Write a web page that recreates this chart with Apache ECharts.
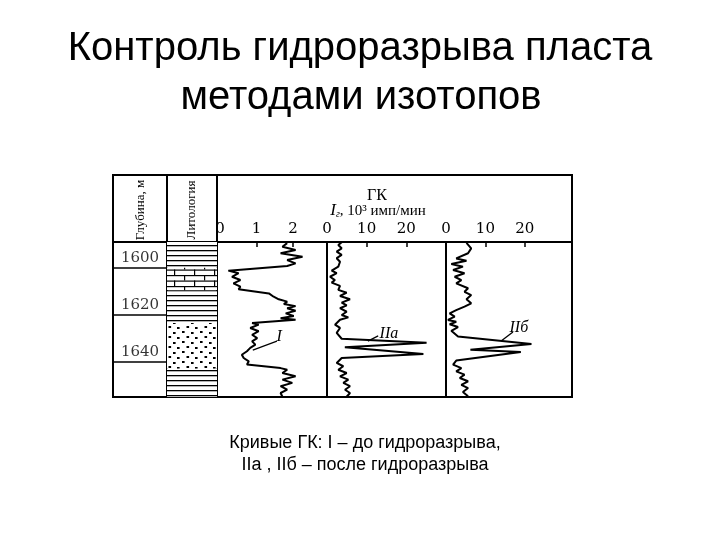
<!DOCTYPE html>
<html>
<head>
<meta charset="utf-8">
<style>
html, body { margin: 0; padding: 0; background: #fff; }
#chart-panel { width: 720px; height: 540px; }
</style>
<script src="https://cdn.jsdelivr.net/npm/echarts@6/dist/echarts.min.js"></script>
</head>
<body>
<div id="chart-panel"></div>
<script type="text/javascript">
// depth column
var depthLabels = [1600, 1620, 1640];
var depthRowLines = [1604, 1624, 1644];

// lithology column
var lithoTop = [1593, 1604, 1613.5, 1627.5, 1647];
var lithoBottom = [1604, 1613.5, 1627.5, 1647, 1659];
var lithoType = ['clay', 'lime', 'clay', 'sand', 'clay'];

// scale labels on top of the tracks
var scaleI = [0, 1, 2];
var scaleII = [0, 10, 20];

// GK curves, [value, depth]
var curveI = [
  [1.84, 1593.5], [1.71, 1595.0], [2.07, 1596.4], [1.66, 1597.8], [2.26, 1599.3],
  [1.84, 1600.7], [2.07, 1602.1], [1.84, 1603.2], [0.23, 1605.2], [0.51, 1606.3],
  [0.33, 1607.8], [0.56, 1609.2], [0.37, 1610.6], [0.56, 1612.0], [0.51, 1613.1],
  [1.34, 1614.9], [1.47, 1616.3], [1.61, 1617.4], [1.84, 1618.4], [1.75, 1619.4],
  [2.07, 1620.3], [1.84, 1621.2], [2.07, 1622.3], [1.80, 1623.4], [2.02, 1624.5],
  [1.66, 1625.5], [2.07, 1626.1], [0.88, 1627.5], [1.06, 1628.2], [0.83, 1629.6],
  [1.06, 1631.0], [0.88, 1632.5], [1.02, 1633.9], [0.88, 1635.3], [0.97, 1636.7],
  [0.83, 1638.1], [0.74, 1639.5], [0.60, 1641.0], [0.65, 1642.4], [0.79, 1643.8],
  [0.74, 1645.2], [1.66, 1646.7], [1.84, 1647.4], [1.71, 1648.8], [2.07, 1650.2],
  [1.71, 1651.6], [1.98, 1653.0], [1.66, 1654.4], [1.84, 1655.9], [1.66, 1657.3],
  [1.71, 1658.9]
];
var curveIIa = [
  [3.7, 1593.1], [2.85, 1594.3], [3.7, 1595.7], [2.44, 1597.1], [3.7, 1598.5],
  [2.44, 1599.9], [3.28, 1601.4], [2.85, 1603.5], [1.18, 1605.2], [2.44, 1606.3],
  [0.76, 1607.8], [2.0, 1609.2], [1.18, 1610.3], [3.28, 1611.7], [2.85, 1613.4],
  [4.96, 1614.6], [3.28, 1616.0], [5.8, 1617.4], [3.7, 1618.8], [4.96, 1620.0],
  [3.28, 1621.2], [4.96, 1622.7], [3.7, 1624.1], [5.37, 1625.1], [3.28, 1626.1],
  [2.02, 1628.2], [3.28, 1629.6], [2.44, 1631.7], [3.7, 1634.2], [25.1, 1635.9],
  [4.5, 1637.8], [24.3, 1640.7], [3.7, 1642.4], [2.44, 1644.5], [4.1, 1645.9],
  [2.85, 1647.4], [4.96, 1648.8], [3.28, 1650.2], [5.37, 1651.6], [4.12, 1653.0],
  [5.8, 1654.4], [4.54, 1655.9], [5.8, 1657.3], [4.96, 1658.9]
];
var curveIIb = [
  [5.2, 1593.4], [6.4, 1595.7], [5.6, 1597.8], [2.6, 1600.0], [5.2, 1601.0],
  [1.35, 1602.4], [4.3, 1603.5], [1.8, 1604.9], [4.7, 1606.3], [2.2, 1607.8],
  [3.9, 1609.2], [2.6, 1610.6], [5.6, 1612.7], [4.7, 1614.2], [6.4, 1615.6],
  [5.2, 1617.4], [6.4, 1619.1], [4.7, 1620.5], [2.6, 1622.0], [0.93, 1623.4],
  [2.2, 1624.8], [0.5, 1626.2], [2.6, 1627.0], [0.93, 1628.0], [3.05, 1629.2],
  [1.35, 1630.8], [3.05, 1633.2], [21.7, 1636.4], [6.2, 1638.9], [19.0, 1639.8],
  [2.6, 1643.5], [1.8, 1645.2], [3.9, 1646.7], [2.6, 1648.1], [4.7, 1649.5],
  [3.5, 1650.9], [5.6, 1652.3], [3.9, 1653.8], [5.6, 1655.2], [4.3, 1656.9],
  [5.6, 1658.7]
];

// curve captions and their leaders
var tagI = { text: 'I', at: [1.62, 1633.4], leader: [[0.90, 1639.0], [1.56, 1635.2]] };
var tagIIa = { text: 'IIa', at: [15.6, 1632.2], leader: [[10.3, 1635.2], [12.9, 1633.0]] };
var tagIIb = { text: 'IIб', at: [18.5, 1629.6], leader: [[14.0, 1635.2], [17.0, 1631.3]] };

function makePattern(w, h, draw) {
  var c = document.createElement('canvas');
  c.width = w; c.height = h;
  var ctx = c.getContext('2d');
  ctx.fillStyle = '#fff';
  ctx.fillRect(0, 0, w, h);
  ctx.fillStyle = '#000';
  draw(ctx);
  return { image: c, repeat: 'repeat' };
}
var patterns = {
  clay: makePattern(8, 5, function (ctx) { ctx.fillRect(0, 0, 8, 1.3); }),
  lime: makePattern(20, 11, function (ctx) {
    ctx.fillRect(0, 0, 20, 1.2);
    ctx.fillRect(0, 5.5, 20, 1.2);
    ctx.fillRect(4, 0, 1.2, 5.5);
    ctx.fillRect(14, 5.5, 1.2, 5.5);
  }),
  sand: makePattern(18, 10, function (ctx) {
    ctx.fillRect(2, 1, 2.6, 2);
    ctx.fillRect(11, 2, 2.6, 2);
    ctx.fillRect(6.5, 6, 2.6, 2);
    ctx.fillRect(15, 7, 2.6, 2);
  })
};

var serif = '"DejaVu Serif", serif';
var TOP = 242, H = 155, DMIN = 1593, DMAX = 1659;

function grid(left, width) {
  return { left: left, top: TOP, width: width, height: H, show: true,
           borderColor: '#000', borderWidth: 2, backgroundColor: 'transparent' };
}
function yAx(i) {
  return { gridIndex: i, type: 'value', inverse: true, min: DMIN, max: DMAX, show: false };
}
function trackX(i, min, max, labels) {
  return {
    gridIndex: i, type: 'value', position: 'top', min: min, max: max,
    splitLine: { show: false }, axisLine: { show: false },
    axisTick: { show: true, inside: true, length: 5, customValues: labels.slice(1),
                lineStyle: { color: '#000', width: 1.5 } },
    axisLabel: { customValues: labels, margin: 5, color: '#000', fontFamily: serif, fontSize: 15 }
  };
}
function tagSeries(tag) {
  return {
    markLine: {
      silent: true, symbol: ['none', 'none'], label: { show: false },
      lineStyle: { color: '#000', width: 1.3, type: 'solid' },
      data: [[{ coord: tag.leader[0] }, { coord: tag.leader[1] }]]
    },
    markPoint: {
      silent: true, symbol: 'circle', symbolSize: 0,
      label: { show: true, position: 'inside', formatter: tag.text, color: '#000',
               fontFamily: '"Liberation Serif", serif', fontStyle: 'italic', fontSize: 16 },
      data: [{ coord: tag.at }]
    }
  };
}
function curve(i, data, tag) {
  var s = {
    type: 'line', xAxisIndex: i, yAxisIndex: i, data: data,
    symbol: 'none', lineStyle: { color: '#000', width: 2 }
  };
  var t = tagSeries(tag);
  s.markLine = t.markLine;
  s.markPoint = t.markPoint;
  return s;
}

var myChart = echarts.init(document.getElementById('chart-panel'));
var option = {
  animation: false,
  backgroundColor: '#fff',
  grid: [grid(113, 54), grid(167, 50), grid(217, 110), grid(327, 119), grid(446, 126)],
  xAxis: [
    { gridIndex: 0, type: 'value', min: 0, max: 1, show: false },
    { gridIndex: 1, type: 'value', min: 0, max: 1, show: false },
    trackX(2, -0.08, 2.93, scaleI),
    trackX(3, 0, 30, scaleII),
    trackX(4, 0, 32, scaleII)
  ],
  yAxis: [yAx(0), yAx(1), yAx(2), yAx(3), yAx(4)],
  series: [
    {
      type: 'scatter', xAxisIndex: 0, yAxisIndex: 0, symbolSize: 0,
      data: depthLabels.map(function (d) { return [0.5, d]; }),
      label: { show: true, position: 'inside', color: '#000', fontFamily: serif, fontSize: 15,
               formatter: function (p) { return p.value[1]; } },
      markLine: {
        silent: true, symbol: ['none', 'none'], label: { show: false },
        lineStyle: { color: '#000', width: 1.5, type: 'solid' },
        data: depthRowLines.map(function (d) { return { yAxis: d }; })
      }
    },
    {
      type: 'custom', xAxisIndex: 1, yAxisIndex: 1,
      data: lithoTop.map(function (t, i) { return [t, lithoBottom[i]]; }),
      encode: { y: [0, 1] },
      renderItem: function (params, api) {
        var p0 = api.coord([0, api.value(0)]);
        var p1 = api.coord([1, api.value(1)]);
        return {
          type: 'rect',
          shape: { x: p0[0], y: p0[1], width: p1[0] - p0[0], height: p1[1] - p0[1] },
          style: { fill: patterns[lithoType[params.dataIndex]] }
        };
      }
    },
    curve(2, curveI, tagI),
    curve(3, curveIIa, tagIIa),
    curve(4, curveIIb, tagIIb)
  ],
  graphic: [
    { type: 'polyline', shape: { points: [[113, 243], [113, 175], [572, 175], [572, 243]] },
      style: { stroke: '#000', lineWidth: 2, fill: null } },
    { type: 'line', shape: { x1: 167, y1: 175, x2: 167, y2: 242 }, style: { stroke: '#000', lineWidth: 2 } },
    { type: 'line', shape: { x1: 217, y1: 175, x2: 217, y2: 242 }, style: { stroke: '#000', lineWidth: 2 } },
    { type: 'text', x: 141, y: 210, rotation: Math.PI / 2,
      style: { text: 'Глубина, м', font: '13px "Liberation Serif"', fill: '#000', align: 'center', verticalAlign: 'middle' } },
    { type: 'text', x: 192, y: 210, rotation: Math.PI / 2,
      style: { text: 'Литология', font: '13px "Liberation Serif"', fill: '#000', align: 'center', verticalAlign: 'middle' } },
    { type: 'text', x: 377, y: 196,
      style: { text: 'ГК', font: '16px "Liberation Serif"', fill: '#000', align: 'center', verticalAlign: 'middle' } },
    { type: 'text', x: 378, y: 211,
      style: { text: '{i|I}{s|г}, 10³ имп/мин', fill: '#000', align: 'center', verticalAlign: 'middle',
               font: '15px "Liberation Serif"',
               rich: { i: { fontStyle: 'italic', fontSize: 17, fontFamily: 'Liberation Serif' },
                       s: { fontSize: 10, fontStyle: 'italic', fontFamily: 'Liberation Serif', padding: [7, 0, 0, 0] } } } },
    { type: 'text', x: 360, y: 49,
      style: { text: 'Контроль гидроразрыва пласта', font: '40px "Liberation Sans"', fill: '#000', align: 'center', verticalAlign: 'middle' } },
    { type: 'text', x: 361, y: 98,
      style: { text: 'методами изотопов', font: '40px "Liberation Sans"', fill: '#000', align: 'center', verticalAlign: 'middle' } },
    { type: 'text', x: 365, y: 443,
      style: { text: 'Кривые ГК: I – до гидроразрыва,', font: '18px "Liberation Sans"', fill: '#000', align: 'center', verticalAlign: 'middle' } },
    { type: 'text', x: 365, y: 465,
      style: { text: 'IIа , IIб – после гидроразрыва', font: '18px "Liberation Sans"', fill: '#000', align: 'center', verticalAlign: 'middle' } }
  ]
};
myChart.setOption(option);
</script>
</body>
</html>
